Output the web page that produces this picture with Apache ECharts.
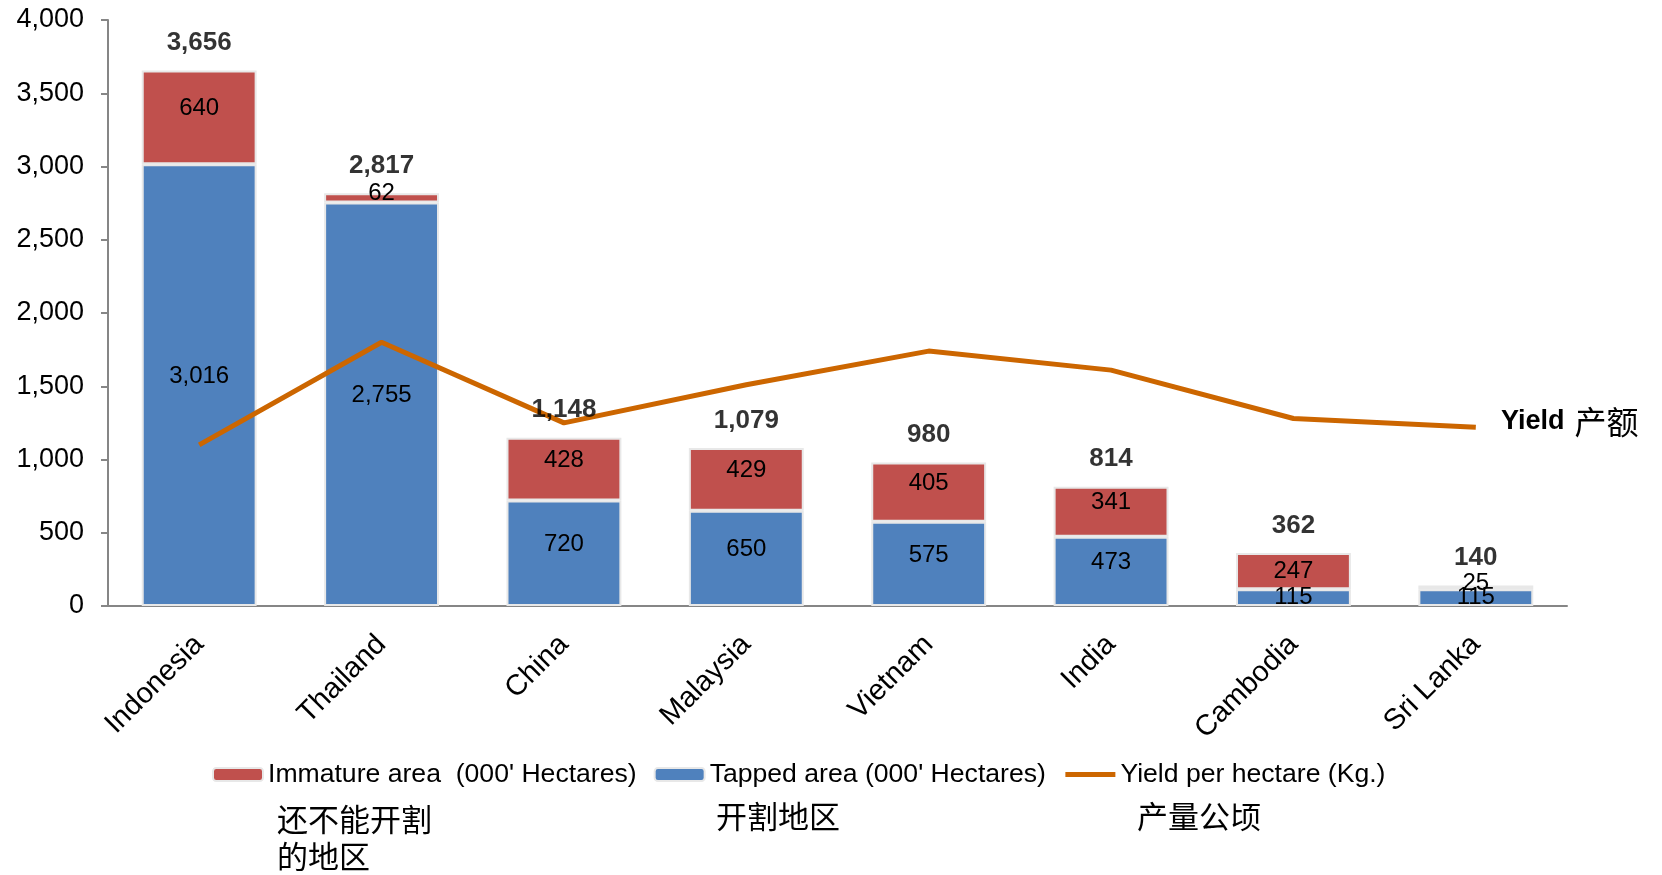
<!DOCTYPE html>
<html lang="en">
<head>
    <meta charset="UTF-8">
    <title>Rubber area and yield</title>
</head>
<style>
    body{
        margin: 0;
        padding: 0;
        background-color: #fff;
    }
    .main{
        width: 1662px;
        height: 875px;
    }
</style>
<body>
    <div class="main"></div>
</body>
<script src="https://cdn.jsdelivr.net/npm/echarts/dist/echarts.min.js"></script>
<script>
  // 数据
  var countries = ['Indonesia', 'Thailand', 'China', 'Malaysia', 'Vietnam', 'India', 'Cambodia', 'Sri Lanka'];
  var tappedArea = [3016, 2755, 720, 650, 575, 473, 115, 115];
  var immatureArea = [640, 62, 428, 429, 405, 341, 247, 25];
  var yieldPerHa = [1100, 1800, 1250, 1510, 1740, 1610, 1280, 1220];
  var yTicks = [0, 500, 1000, 1500, 2000, 2500, 3000, 3500, 4000];

  // 合计 = 开割 + 未开割
  var totals = tappedArea.map(function (v, i) { return v + immatureArea[i]; });

  var fmt = function (v) { return Number(v).toLocaleString('en-US'); };
  var baseFont = 'Liberation Sans, Arial, sans-serif';
  var cjkFont = '"Noto Sans CJK SC", sans-serif';

  // 大块的标签稍微往上挪一点
  function segData(arr) {
      return arr.map(function (v) {
          return { value: v, label: { offset: [0, v > 300 ? -9 : (v < 100 ? -4 : 0)] } };
      });
  }

  var myChart = echarts.init(document.querySelector('.main'));

  var option = {
      animation: false,
      textStyle: { fontFamily: baseFont, color: '#000' },
      grid: { left: 108, right: 95, top: 20, bottom: 269 },
      legend: {
          data: [
              'Immature area  (000\' Hectares)',
              'Tapped area (000\' Hectares)',
              { name: 'Yield per hectare (Kg.)', itemStyle: { opacity: 0 }, lineStyle: { width: 5, color: '#CC6600' } }
          ],
          left: 207,
          top: 756,
          itemWidth: 50,
          itemHeight: 13,
          itemGap: 17,
          textStyle: { fontSize: 26.6, color: '#000', fontFamily: baseFont }
      },
      xAxis: {
          type: 'category',
          data: countries,
          axisTick: { show: false },
          axisLine: { lineStyle: { color: '#868686', width: 2 } },
          axisLabel: { rotate: 45, fontSize: 29, color: '#000', margin: 34, interval: 0 }
      },
      yAxis: {
          type: 'value',
          min: yTicks[0],
          max: yTicks[yTicks.length - 1],
          interval: 500,
          splitLine: { show: false },
          axisLine: { show: true, lineStyle: { color: '#868686', width: 2 } },
          axisTick: { show: true, length: 7, lineStyle: { color: '#868686', width: 2 } },
          axisLabel: { fontSize: 27, color: '#000', margin: 24, formatter: fmt }
      },
      series: [
          {
              name: 'Tapped area (000\' Hectares)',
              type: 'bar',
              stack: 'area',
              barWidth: '63%',
              data: segData(tappedArea),
              itemStyle: { color: '#4F81BD', borderColor: '#E8E8E8', borderWidth: 2 },
              label: { show: true, position: 'inside', fontSize: 24, color: '#000', formatter: function (p) { return fmt(p.value); } }
          },
          {
              name: 'Immature area  (000\' Hectares)',
              type: 'bar',
              stack: 'area',
              data: segData(immatureArea),
              itemStyle: { color: '#C0504D', borderColor: '#E8E8E8', borderWidth: 2 },
              label: { show: true, position: 'inside', fontSize: 24, color: '#000', formatter: function (p) { return fmt(p.value); } }
          },
          {
              name: 'Yield per hectare (Kg.)',
              type: 'line',
              data: yieldPerHa,
              symbol: 'none',
              lineStyle: { color: '#CC6600', width: 5 },
              itemStyle: { color: '#CC6600' },
              z: 5
          },
          {
              name: 'total',
              type: 'scatter',
              data: totals,
              symbolSize: 1,
              itemStyle: { color: 'rgba(0,0,0,0)' },
              label: { show: true, position: 'top', distance: 14, fontSize: 26, fontWeight: 'bold', color: '#000', formatter: function (p) { return fmt(p.value); } },
              z: 6
          }
      ],
      graphic: [
          {
              type: 'text', left: 1501, top: 406,
              style: {
                  text: '{a|Yield}   {b|产额}',
                  rich: {
                      a: { fontSize: 27, fontWeight: 'bold', fontFamily: baseFont, fill: '#000' },
                      b: { fontSize: 32, fontFamily: cjkFont, fill: '#000' }
                  }
              }
          },
          {
              type: 'text', left: 277, top: 801,
              style: { text: '还不能开割\n的地区', font: '31px "Noto Sans CJK SC", sans-serif', fill: '#000', lineHeight: 37 }
          },
          {
              type: 'text', left: 716, top: 801,
              style: { text: '开割地区', font: '31px "Noto Sans CJK SC", sans-serif', fill: '#000' }
          },
          {
              type: 'text', left: 1137, top: 801,
              style: { text: '产量公顷', font: '31px "Noto Sans CJK SC", sans-serif', fill: '#000' }
          }
      ]
  };

  myChart.setOption(option);
</script>
</html>
